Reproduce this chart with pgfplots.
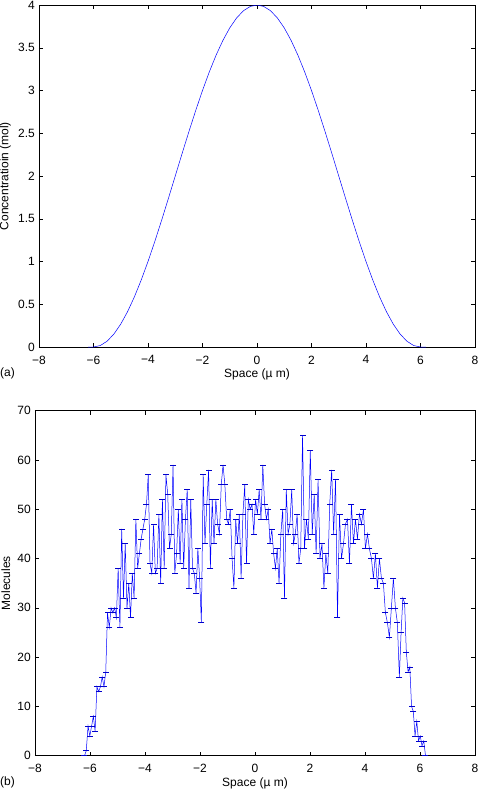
\documentclass[border=0pt]{standalone}
\usepackage{fontspec}
\setmainfont{Liberation Sans}
\usepackage{pgfplots}
\pgfplotsset{compat=1.18}
\newcommand{\lf}{\fontsize{12}{14}\selectfont}
\pgfplotsset{
  mystyle/.style={
    scale only axis, anchor=north west,
    xmin=-8, xmax=8,
    xtick={-8,-6,-4,-2,0,2,4,6,8},
    xticklabels={−8,−6,−4,−2,0,2,4,6,8},
    tick align=inside, major tick length=4pt,
    tick label style={font=\lf},
    xticklabel style={inner sep=0pt, anchor=north, yshift=-8.5pt},
    yticklabel style={inner sep=0pt, anchor=east, xshift=-4pt},
    axis line style={black, line width=0.5pt},
    every tick/.style={black, line width=0.5pt},
    xlabel={Space (µ m)},
    xlabel style={font=\lf, inner sep=0pt, at={(axis description cs:0.5,0)}, anchor=north, yshift=-22pt},
  }
}
\begin{document}
\begin{tikzpicture}
\path[use as bounding box] (0pt,0pt) rectangle (480pt,-790pt);
\begin{axis}[mystyle, at={(39pt,-5pt)}, width=436pt, height=342pt,
  ymin=0, ymax=4,
  ytick={0,0.5,1,1.5,2,2.5,3,3.5,4},
  yticklabels={0,0.5,1,1.5,2,2.5,3,3.5,4},
  ylabel={Concentratioin (mol)},
  ylabel style={font=\lf, inner sep=0pt, at={(axis description cs:-0.064,0.5)}, anchor=south}]
\addplot[blue, line width=0.5pt] coordinates {
(-6.2,0) (-6,0) (-5.75,0.0171) (-5.5,0.0681) (-5.25,0.1522) (-5,0.2679)
(-4.75,0.4133) (-4.5,0.5858) (-4.25,0.7825) (-4,1.0) (-3.75,1.2346)
(-3.5,1.4824) (-3.25,1.7389) (-3,2.0) (-2.75,2.2611) (-2.5,2.5176)
(-2.25,2.7654) (-2,3.0) (-1.75,3.2175) (-1.5,3.4142) (-1.25,3.5867)
(-1,3.7321) (-0.75,3.8478) (-0.5,3.9319) (-0.25,3.9829) (0,4)
(0.25,3.9829) (0.5,3.9319) (0.75,3.8478) (1,3.7321) (1.25,3.5867)
(1.5,3.4142) (1.75,3.2175) (2,3.0) (2.25,2.7654) (2.5,2.5176)
(2.75,2.2611) (3,2.0) (3.25,1.7389) (3.5,1.4824) (3.75,1.2346)
(4,1.0) (4.25,0.7825) (4.5,0.5858) (4.75,0.4133) (5,0.2679)
(5.25,0.1522) (5.5,0.0681) (5.75,0.0171) (6,0) (6.2,0)
};
\end{axis}
\begin{axis}[mystyle, at={(35pt,-410.7pt)}, width=440pt, height=345pt,
  ymin=0, ymax=70,
  ytick={0,10,20,30,40,50,60,70},
  yticklabels={0,10,20,30,40,50,60,70},
  ylabel={Molecules},
  ylabel style={font=\lf, inner sep=0pt, at={(axis description cs:-0.056,0.5)}, anchor=south}]
\addplot[blue, line width=0.5pt, mark=-, mark size=3pt, mark options={blue!80!black, solid, line width=0.6pt}] table {
x y
-6.200 0
-6.136 1
-6.071 6
-6.007 4
-5.942 6
-5.878 8
-5.814 5
-5.749 14
-5.685 13
-5.620 14
-5.556 16
-5.492 14
-5.427 17
-5.363 29
-5.298 26
-5.234 30
-5.170 29
-5.105 30
-5.041 28
-4.976 38
-4.912 26
-4.848 46
-4.783 32
-4.719 43
-4.654 30
-4.590 35
-4.526 28
-4.461 37
-4.397 32
-4.332 48
-4.268 38
-4.204 41
-4.139 44
-4.075 46
-4.010 48
-3.946 51
-3.882 57
-3.817 39
-3.753 37
-3.688 47
-3.624 37
-3.560 38
-3.495 49
-3.431 35
-3.366 52
-3.302 38
-3.238 57
-3.173 53
-3.109 42
-3.044 45
-2.980 59
-2.916 37
-2.851 41
-2.787 50
-2.722 39
-2.658 52
-2.594 38
-2.529 48
-2.465 54
-2.400 34
-2.336 52
-2.272 38
-2.207 37
-2.143 33
-2.078 42
-2.014 36
-1.950 27
-1.884 57
-1.819 43
-1.753 51
-1.687 58
-1.622 38
-1.556 52
-1.490 43
-1.424 52
-1.359 47
-1.293 45
-1.227 55
-1.162 59
-1.096 55
-1.030 48
-0.965 47
-0.899 50
-0.833 40
-0.767 34
-0.702 48
-0.636 43
-0.570 49
-0.505 36
-0.439 49
-0.373 55
-0.308 39
-0.242 52
-0.176 50
-0.110 51
-0.045 45
0.021 52
0.087 49
0.152 54
0.218 48
0.284 59
0.350 51
0.415 48
0.481 50
0.547 43
0.612 46
0.678 41
0.744 38
0.809 42
0.875 35
0.941 45
1.007 50
1.072 32
1.138 54
1.204 45
1.269 47
1.335 54
1.401 43
1.466 45
1.532 49
1.598 39
1.663 42
1.729 65
1.800 42
1.870 48
1.941 44
2.011 62
2.082 45
2.153 53
2.223 41
2.294 56
2.364 40
2.435 43
2.506 34
2.576 41
2.647 37
2.717 51
2.788 58
2.859 45
2.929 56
3.000 28
3.073 49
3.145 40
3.218 43
3.290 47
3.363 48
3.435 39
3.508 51
3.581 43
3.653 48
3.726 44
3.798 49
3.871 47
3.944 50
4.016 42
4.089 45
4.161 42
4.234 40
4.306 36
4.379 41
4.452 34
4.524 40
4.597 36
4.669 35
4.742 29
4.815 27
4.887 24
4.960 30
5.032 36
5.105 30
5.177 27
5.250 16
5.313 25
5.377 32
5.440 31
5.503 21
5.567 17
5.630 18
5.693 10
5.757 9
5.820 4
5.883 7
5.947 3
6.010 4
6.073 2
6.137 3
6.200 0
};
\end{axis}
\node[anchor=north west, inner sep=0pt, font=\lf] at (0pt,-368pt) {(a)};
\node[anchor=north west, inner sep=0pt, font=\lf] at (0pt,-777pt) {(b)};
\end{tikzpicture}
\end{document}
